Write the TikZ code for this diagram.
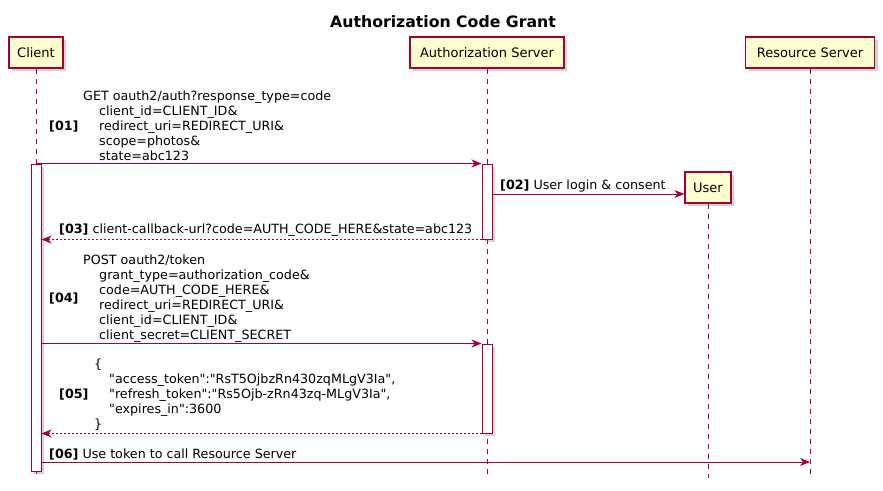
\documentclass[tikz,border=0pt]{standalone}
\usepackage{fontspec}
\setmainfont{DejaVu Sans}[Ligatures=TeXOff]
\usepackage{tikz}
\usetikzlibrary{arrows.meta,shadows}
\definecolor{umlred}{HTML}{A80036}
\definecolor{umlbox}{HTML}{FEFECE}

\begin{document}
\begin{tikzpicture}[>={Stealth[length=10bp,width=8bp,inset=3bp]},
	participant/.style={draw=umlred, line width=1.2bp, fill=umlbox, minimum height=31bp, inner sep=0pt,
		font=\fontsize{13bp}{15bp}\selectfont,
		drop shadow={shadow xshift=3bp, shadow yshift=-3bp, opacity=0.35}},
	lifeline/.style={umlred, line width=1bp, dash pattern=on 5bp off 5bp},
	activation/.style={draw=umlred, line width=1bp, fill=white, minimum width=10bp, inner sep=0pt,
		drop shadow={shadow xshift=3bp, shadow yshift=-3bp, opacity=0.35}},
	msg/.style={->, umlred, line width=1bp},
	ret/.style={->, umlred, line width=1bp, dash pattern=on 2bp off 2bp},
	txt/.style={inner sep=0pt, anchor=base west, align=left, font=\fontsize{12.7bp}{15bp}\selectfont},
	num/.style={inner sep=0pt, anchor=base west, font=\fontsize{12.7bp}{15bp}\selectfont\bfseries}]
	\useasboundingbox (0bp,0bp) rectangle (883bp,-491bp);

	\node (title) at (443bp,-27bp) [anchor=base, inner sep=0pt, font=\fontsize{15.7bp}{18bp}\selectfont\bfseries] {Authorization Code Grant};

	% participants
	\node (client) at (36bp,-52.5bp) [participant, minimum width=54bp] {Client};
	\node (auth) at (487bp,-52.5bp) [participant, minimum width=154bp] {Authorization Server};
	\node (resource) at (810bp,-52.5bp) [participant, minimum width=129bp] {Resource Server};
	\node (user) at (708bp,-187.5bp) [participant, minimum width=46bp] {User};

	\coordinate (clientEnd) at (36bp,-478bp);
	\coordinate (authEnd) at (487bp,-478bp);
	\coordinate (userEnd) at (708bp,-478bp);
	\coordinate (resourceEnd) at (810bp,-478bp);

	\draw [lifeline] (client.south) -- (clientEnd);
	\draw [lifeline] (auth.south) -- (authEnd);
	\draw [lifeline] (user.south) -- (userEnd);
	\draw [lifeline] (resource.south) -- (resourceEnd);

	% activations
	\node (actC) at (36bp,-317.5bp) [activation, minimum height=307bp] {};
	\node (actA1) at (487bp,-201.5bp) [activation, minimum height=75bp] {};
	\node (actA2) at (487bp,-388.5bp) [activation, minimum height=89bp] {};

	\coordinate (r2) at (0bp,-194bp);
	\coordinate (r6) at (0bp,-462bp);

	% messages (base anchor of a block = its last line)
	\draw [msg] (actC.north) -- (actA1.north west);
	\node (n01) at (49bp,-130bp) [num] {[01]};
	\node (m01) at (83bp,-160bp) [txt] {GET oauth2/auth?response\_type=code\\
		\hspace*{16bp}client\_id=CLIENT\_ID\&\\
		\hspace*{16bp}redirect\_uri=REDIRECT\_URI\&\\
		\hspace*{16bp}scope=photos\&\\
		\hspace*{16bp}state=abc123};

	\draw [msg] (actA1.east |- r2) -- (user.west |- r2);
	\node (m02) at (500bp,-189bp) [txt] {\textbf{[02]} User login \& consent};

	\draw [ret] (actA1.south west) -- (actC.east |- actA1.south);
	\node (m03) at (59bp,-233.5bp) [txt] {\textbf{[03]} client-callback-url?code=AUTH\_CODE\_HERE\&state=abc123};

	\draw [msg] (actC.east |- actA2.north) -- (actA2.north west);
	\node (n04) at (49bp,-302bp) [num] {[04]};
	\node (m04) at (83bp,-339bp) [txt] {POST oauth2/token\\
		\hspace*{16bp}grant\_type=authorization\_code\&\\
		\hspace*{16bp}code=AUTH\_CODE\_HERE\&\\
		\hspace*{16bp}redirect\_uri=REDIRECT\_URI\&\\
		\hspace*{16bp}client\_id=CLIENT\_ID\&\\
		\hspace*{16bp}client\_secret=CLIENT\_SECRET};

	\draw [ret] (actA2.south west) -- (actC.east |- actA2.south);
	\node (n05) at (59bp,-398bp) [num] {[05]};
	\node (m05) at (94bp,-428bp) [txt] {\{\\
		\hspace*{15bp}"access\_token":"RsT5OjbzRn430zqMLgV3Ia",\\
		\hspace*{15bp}"refresh\_token":"Rs5Ojb-zRn43zq-MLgV3Ia",\\
		\hspace*{15bp}"expires\_in":3600\\
		\}};

	\draw [msg] (actC.east |- r6) -- (resource |- r6);
	\node (m06) at (49bp,-458bp) [txt] {\textbf{[06]} Use token to call Resource Server};

\end{tikzpicture}
\end{document}
